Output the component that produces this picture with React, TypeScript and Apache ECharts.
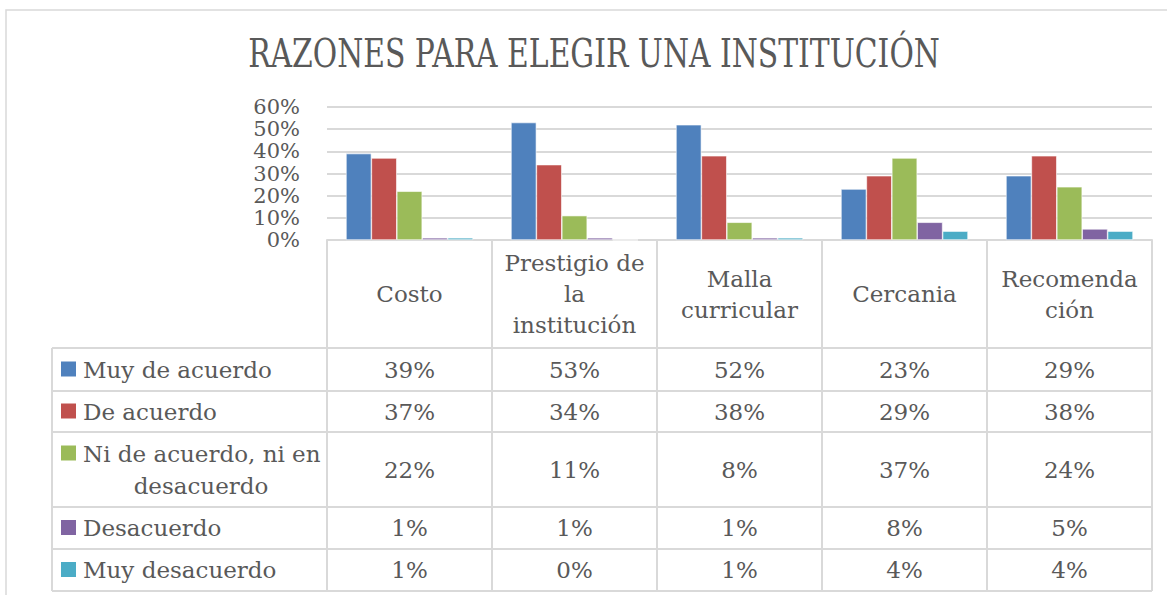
import React, { useEffect, useRef } from "react";
import * as echarts from "echarts";

const title = "RAZONES PARA ELEGIR UNA INSTITUCIÓN";
const categories = ["Costo", "Prestigio de\nla\ninstitución", "Malla\ncurricular", "Cercania", "Recomenda\nción"];
const seriesNames = ["Muy de acuerdo", "De acuerdo", "Ni de acuerdo, ni en\ndesacuerdo", "Desacuerdo", "Muy desacuerdo"];
const muyDeAcuerdo = [39, 53, 52, 23, 29];
const deAcuerdo = [37, 34, 38, 29, 38];
const niNi = [22, 11, 8, 37, 24];
const desacuerdo = [1, 1, 1, 8, 5];
const muyDesacuerdo = [1, 0, 1, 4, 4];
const seriesValues = [muyDeAcuerdo, deAcuerdo, niNi, desacuerdo, muyDesacuerdo];
const colors = ["#4F81BD", "#C0504D", "#9BBB59", "#8064A2", "#4BACC6"];
const yTicks = [0, 10, 20, 30, 40, 50, 60];

const FONT = "'DejaVu Serif', serif";
const TEXT = "#595959";
const LINE = "#D9D9D9";

export default function App() {
  const ref = useRef<HTMLDivElement>(null);
  useEffect(() => {
    if (!ref.current) return;
    const chart = echarts.init(ref.current, undefined, { renderer: "svg" });
    const W = 1167;
    const plotLeft = 327, plotRight = 1152, plotTop = 107, axisY = 240;
    const colW = (plotRight - plotLeft) / categories.length;
    const rowBounds = [348, 391, 432, 507, 549, 591];
    const legendLeft = 52;
    const graphics: any[] = [];
    const line = (x1: number, y1: number, x2: number, y2: number) =>
      graphics.push({ type: "line", shape: { x1, y1, x2, y2 }, style: { stroke: LINE, lineWidth: 2 }, z: 10 });
    // outer border
    graphics.push({ type: "rect", shape: { x: 6, y: 10, width: 1175, height: 600 }, style: { fill: "none", stroke: LINE, lineWidth: 1.5 } });
    // title
    graphics.push({
      type: "text", x: 594, y: 54, scaleY: 1.3,
      style: { text: title, x: 0, y: 0, align: "center", verticalAlign: "middle", font: `29.8px ${FONT}`, fill: TEXT },
    });
    // table lines
    for (let i = 0; i <= categories.length; i++) {
      const x = plotLeft + i * colW;
      line(x, axisY, x, rowBounds[rowBounds.length - 1]);
    }
    line(legendLeft, rowBounds[0], legendLeft, rowBounds[rowBounds.length - 1]);
    rowBounds.forEach((y) => line(legendLeft, y, plotRight, y));
    // header texts
    categories.forEach((c, i) => {
      graphics.push({
        type: "text", z: 11,
        style: {
          text: c, x: plotLeft + (i + 0.5) * colW, y: (axisY + rowBounds[0]) / 2,
          align: "center", verticalAlign: "middle", font: `23px ${FONT}`, fill: TEXT, lineHeight: 31,
        },
      });
    });
    // rows
    seriesNames.forEach((name, r) => {
      const yc = (rowBounds[r] + rowBounds[r + 1]) / 2;
      const multi = name.includes("\n");
      const lines = name.split("\n");
      const firstY = multi ? yc - 16 : yc;
      graphics.push({
        type: "rect", z: 11,
        shape: { x: 61, y: firstY - 8, width: 15, height: 15 },
        style: { fill: colors[r] },
      });
      if (multi) {
        lines.forEach((ln, k) => {
          graphics.push({
            type: "text", z: 11,
            style: {
              text: ln, x: k === 0 ? 83 : 201, y: firstY + k * 32,
              align: k === 0 ? "left" : "center", verticalAlign: "middle", font: `23px ${FONT}`, fill: TEXT,
            },
          });
        });
      } else {
        graphics.push({
          type: "text", z: 11,
          style: { text: name, x: 83, y: yc, align: "left", verticalAlign: "middle", font: `23px ${FONT}`, fill: TEXT },
        });
      }
      seriesValues[r].forEach((v, i) => {
        graphics.push({
          type: "text", z: 11,
          style: {
            text: `${v}%`, x: plotLeft + (i + 0.5) * colW, y: yc,
            align: "center", verticalAlign: "middle", font: `23px ${FONT}`, fill: TEXT,
          },
        });
      });
    });

    chart.setOption({
      animation: false,
      grid: { left: plotLeft, right: W - plotRight, top: plotTop, bottom: 595 - axisY, containLabel: false },
      xAxis: {
        type: "category",
        data: categories,
        axisLabel: { show: false },
        axisTick: { show: false },
        axisLine: { show: true, lineStyle: { color: LINE, width: 2 } },
      },
      yAxis: {
        type: "value",
        min: 0,
        max: yTicks[yTicks.length - 1] / 100,
        interval: 0.1,
        axisLabel: {
          formatter: (v: number) => `${Math.round(v * 100)}%`,
          color: TEXT, fontFamily: FONT, fontSize: 21, lineHeight: 21, margin: 27,
          showMinLabel: true, showMaxLabel: true, hideOverlap: false,
        },
        axisLine: { show: false },
        axisTick: { show: false },
        splitLine: { lineStyle: { color: LINE, width: 2 } },
      },
      series: seriesNames.map((n, r) => ({
        name: n.replace("\n", " "),
        type: "bar",
        data: seriesValues[r].map((v) => v / 100),
        barGap: "0%",
        barCategoryGap: "23%",
        itemStyle: { color: colors[r], borderColor: "#ffffff", borderWidth: 0.6 },
      })),
      graphic: graphics,
    });
    return () => chart.dispose();
  }, []);
  return <div ref={ref} style={{ position: "fixed", left: 0, top: 0, width: 1167, height: 595, background: "#fff" }} />;
}
